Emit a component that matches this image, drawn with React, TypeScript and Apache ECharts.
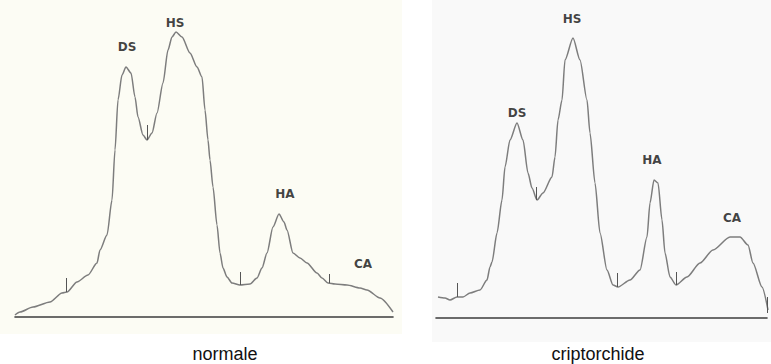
import React, { useEffect, useRef } from "react";
import * as echarts from "echarts";

// Densitometric traces: [position along strip, height above baseline]
const normaleTrace: [number, number][] = [
  [0, 2], [5, 5], [18, 10], [35, 15], [47, 24], [52, 25], [62, 35], [73, 42], [82, 54],
  [85, 67], [92, 82], [97, 117], [100, 167], [103, 217], [107, 242], [111, 250], [116, 244],
  [120, 220], [123, 200], [128, 182], [132, 177], [137, 184], [142, 204], [148, 234],
  [153, 267], [157, 280], [161, 285], [167, 280], [175, 264], [182, 250], [187, 240],
  [190, 207], [193, 177], [195, 157], [198, 130], [202, 92], [205, 64], [208, 49],
  [212, 40], [217, 34], [225, 32], [235, 33], [242, 39], [247, 49], [252, 64], [258, 90],
  [264, 103], [269, 95], [272, 87], [278, 64], [285, 59], [292, 54], [302, 44], [307, 39],
  [313, 34], [320, 33], [332, 32], [345, 29], [352, 27], [365, 19], [378, 5],
];
const criptorchideTrace: [number, number][] = [
  [2, 21], [9, 20], [14, 18], [21, 21], [27, 21], [34, 25], [44, 28], [51, 38], [54, 51],
  [56, 56], [61, 85], [66, 118], [69, 151], [74, 178], [81, 195], [87, 178], [92, 145],
  [96, 130], [101, 118], [107, 125], [116, 141], [119, 161], [122, 198], [126, 218],
  [129, 258], [137, 280], [144, 258], [151, 218], [154, 185], [159, 135], [164, 85],
  [171, 48], [177, 33], [182, 31], [194, 38], [204, 48], [211, 81], [214, 115], [218, 138],
  [222, 135], [226, 98], [229, 65], [234, 41], [240, 33], [251, 41], [264, 55], [277, 68],
  [294, 81], [304, 81], [312, 73], [317, 55], [326, 31], [332, 8],
];

// Segmentation ticks: [position, bottom, top]
const normaleTicks: [number, number, number][] = [
  [51, 25, 39], [132, 177, 192], [225, 32, 45], [314, 34, 43],
];
const criptorchideTicks: [number, number, number][] = [
  [21, 21, 35], [100, 118, 131], [181, 31, 45], [240, 33, 46], [331, 5, 21],
];

// Fraction labels: [name, position, height]
const normaleLabels: [string, number, number][] = [
  ["DS", 112, 270], ["HS", 160, 294], ["HA", 270, 123], ["CA", 348, 53],
];
const criptorchideLabels: [string, number, number][] = [
  ["DS", 81, 205], ["HS", 136, 299], ["HA", 216, 158], ["CA", 296, 100],
];

const panelTitles = ["normale", "criptorchide"];

export default function App() {
  const ref = useRef<HTMLDivElement>(null);
  useEffect(() => {
    if (!ref.current) return;
    const chart = echarts.init(ref.current, undefined, { renderer: "svg" });

    const traceColor = "#7d7d7d";
    const makeTicks = (t: [number, number, number][]) =>
      t.map(([x, a, b]) => [{ coord: [x, a] }, { coord: [x, b] }]);

    const axisX = (max: number, idx: number) => ({
      type: "value",
      gridIndex: idx,
      min: 0,
      max,
      axisLine: { show: true, onZero: false, lineStyle: { color: "#3c3c3c", width: 1.6 } },
      axisTick: { show: false },
      axisLabel: { show: false },
      splitLine: { show: false },
    });
    const axisY = (idx: number) => ({
      type: "value",
      gridIndex: idx,
      min: 0,
      max: 310,
      show: false,
      splitLine: { show: false },
    });

    const traceSeries = (data: [number, number][], idx: number, ticks: [number, number, number][]) => ({
      type: "line",
      xAxisIndex: idx,
      yAxisIndex: idx,
      data,
      symbol: "none",
      smooth: 0.25,
      smoothMonotone: "x",
      lineStyle: { color: traceColor, width: 1.5 },
      z: 3,
      markLine: {
        silent: true,
        symbol: "none",
        label: { show: false },
        lineStyle: { color: "#555", width: 1, type: "solid" },
        data: makeTicks(ticks),
      },
    });

    const labelSeries = (labels: [string, number, number][], idx: number) => ({
      type: "scatter",
      xAxisIndex: idx,
      yAxisIndex: idx,
      symbolSize: 0,
      clip: false,
      data: labels.map(([n, x, y]) => ({ name: n, value: [x, y] })),
      label: {
        show: true,
        position: "inside",
        formatter: (p: any) => p.name,
        fontFamily: "DejaVu Sans",
        fontWeight: "bold",
        fontSize: 12,
        color: "#111",
      },
      z: 4,
    });

    chart.setOption({
      animation: false,
      backgroundColor: "#ffffff",
      grid: [
        { left: 15, width: 378, top: 7, height: 310 },
        { left: 436, width: 331, top: 8, height: 310 },
      ],
      xAxis: [axisX(378, 0), axisX(331, 1)],
      yAxis: [axisY(0), axisY(1)],
      graphic: [
        { type: "rect", z: -10, shape: { x: 0, y: 0, width: 402, height: 334 }, style: { fill: "#fcfcf4" } },
        { type: "rect", z: -10, shape: { x: 432, y: 0, width: 339, height: 342 }, style: { fill: "#f9f9f9" } },
        {
          type: "text", x: 225, y: 354, z: 10,
          style: { text: panelTitles[0], fill: "#111", font: "18px 'Liberation Sans', Arial, sans-serif", textAlign: "center", textVerticalAlign: "middle", align: "center", verticalAlign: "middle" },
        },
        {
          type: "text", x: 598, y: 354, z: 10,
          style: { text: panelTitles[1], fill: "#111", font: "18px 'Liberation Sans', Arial, sans-serif", textAlign: "center", textVerticalAlign: "middle", align: "center", verticalAlign: "middle" },
        },
      ],
      series: [
        traceSeries(normaleTrace, 0, normaleTicks),
        traceSeries(criptorchideTrace, 1, criptorchideTicks),
        labelSeries(normaleLabels, 0),
        labelSeries(criptorchideLabels, 1),
      ],
    });
    return () => chart.dispose();
  }, []);
  return (
    <div
      ref={ref}
      style={{ position: "fixed", left: 0, top: 0, width: 771, height: 364 }}
    />
  );
}
